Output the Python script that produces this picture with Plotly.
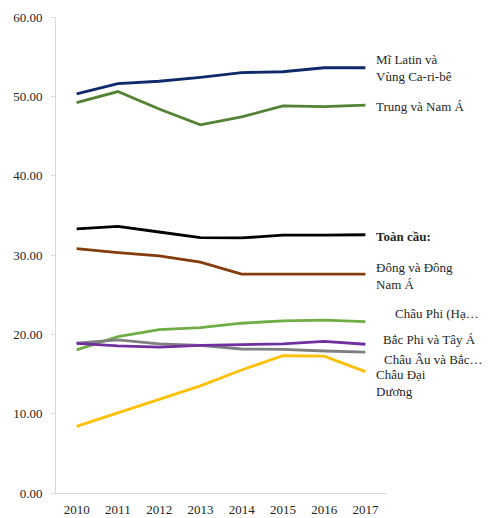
import plotly.graph_objects as go

years = ["2010", "2011", "2012", "2013", "2014", "2015", "2016", "2017"]

latin = [50.3, 51.6, 51.9, 52.4, 53.0, 53.1, 53.6, 53.6]
central_south_asia = [49.2, 50.6, 48.4, 46.4, 47.4, 48.8, 48.7, 48.9]
world = [33.3, 33.6, 32.9, 32.2, 32.15, 32.5, 32.5, 32.55]
east_se_asia = [30.8, 30.3, 29.9, 29.1, 27.6, 27.6, 27.55, 27.6]
subsaharan = [18.05, 19.7, 20.6, 20.85, 21.4, 21.7, 21.8, 21.6]
europe_na = [18.9, 19.3, 18.8, 18.6, 18.15, 18.1, 17.9, 17.75]
nafrica_wasia = [18.85, 18.55, 18.4, 18.6, 18.7, 18.8, 19.1, 18.75]
oceania = [8.4, 10.1, 11.8, 13.5, 15.5, 17.3, 17.25, 15.3]

series_names = ["Mĩ Latin và<br>Vùng Ca-ri-bê", "Trung và Nam Á", "<b>Toàn cầu:</b>",
                "Đông và Đông<br>Nam Á", "Châu Phi (Hạ…", "Bắc Phi và Tây Á",
                "Châu Âu và Bắc…", "Châu Đại<br>Dương"]
series_values = [latin, central_south_asia, world, east_se_asia, subsaharan,
                 europe_na, nafrica_wasia, oceania]
colors = ["#0E2A6B", "#548235", "#000000", "#843C0C", "#70AD47", "#7F7F7F", "#7030A0", "#FFC000"]
# label offsets in px (xshift, yshift)
label_offsets = [(9, 0), (9, -1), (9, -2), (9, -2), (28, 8), (16, 13), (17, -15), (9, -11)]

fig = go.Figure()
for i in range(len(series_values)):
    fig.add_trace(go.Scatter(x=years, y=series_values[i], mode="lines",
                             line=dict(color=colors[i], width=2.8),
                             showlegend=False, hoverinfo="skip"))

font_family = "Liberation Serif"
for i in range(len(series_names)):
    dx, dy = label_offsets[i]
    fig.add_annotation(x=len(years) - 1, y=series_values[i][-1], xref="x", yref="y",
                       text=series_names[i], showarrow=False, xanchor="left",
                       yanchor="middle", align="left", xshift=dx, yshift=dy,
                       font=dict(family=font_family, size=13, color="#262626"))

fig.update_layout(
    width=492, height=518,
    margin=dict(l=56, r=106, t=17, b=25),
    plot_bgcolor="white", paper_bgcolor="white",
    font=dict(family=font_family, size=13, color="#404040"),
)
fig.update_xaxes(type="category", showline=True, linecolor="#D9D9D9", linewidth=1,
                 showgrid=False, ticks="", automargin=False, ticklabelstandoff=4,
                 tickfont=dict(family=font_family, size=13, color="#262626"),
                 range=[-0.5, 7.5])
fig.update_yaxes(range=[0, 60], dtick=10, tickformat=".2f", showline=True,
                 linecolor="#D9D9D9", linewidth=1, showgrid=False, ticks="outside",
                 ticklen=4, tickcolor="#D9D9D9", zeroline=False, automargin=False,
                 ticklabelstandoff=6,
                 tickfont=dict(family=font_family, size=13, color="#262626"))

fig.write_html("out.html")
